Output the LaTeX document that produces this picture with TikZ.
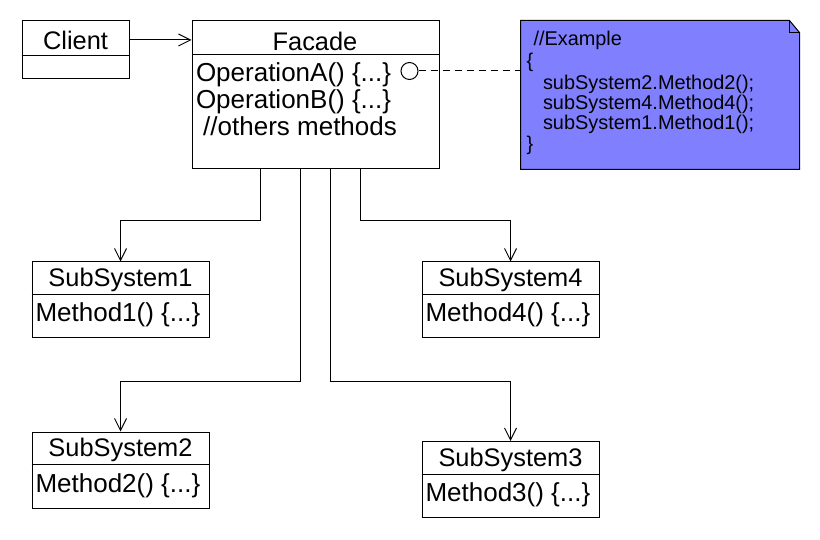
\documentclass[tikz,border=0pt]{standalone}
\usepackage{fontspec}
\setmainfont{Liberation Sans}
\usepackage{xcolor}
\usetikzlibrary{arrows.meta, positioning}

\definecolor{notefill}{HTML}{8080FF}

\begin{document}
\begin{tikzpicture}[
        x=1pt, y=-1pt,
        line width=1pt,
        classbox/.style={draw, rectangle, inner sep=0pt},
        title/.style={inner sep=0pt, font=\fontsize{25.4}{27}\selectfont},
        member/.style={inner sep=0pt, anchor=base west, font=\fontsize{26}{27}\selectfont},
        notetext/.style={inner sep=0pt, anchor=base west, font=\fontsize{19.9}{21}\selectfont},
        uses/.style={-{Straight Barb[length=12pt, width=12pt]}}
    ]
    \useasboundingbox (0,0) rectangle (820,540);

    % Client and Facade
    \node[classbox, minimum width=107pt, minimum height=58pt] (client) at (75.5,50) {};
    \draw ([yshift=-35pt]client.north west) -- ([yshift=-35pt]client.north east);
    \node[title] (clientname) at (75.5,40) {Client};

    \node[classbox, minimum width=247pt, minimum height=148pt] (facade) at (315.5,95) {};
    \draw ([yshift=-34.5pt]facade.north west) -- ([yshift=-34.5pt]facade.north east);
    \node[title] (facadename) at (315,41) {Facade};
    \node[member] (opA) at (195.5,82) {OperationA() \{...\}};
    \node[member] (opB) at (195.5,108.5) {OperationB() \{...\}};
    \node[member] (others) at (195.5,135.5) {\ //others methods};
    \node[draw, circle, minimum size=17pt, inner sep=0pt] (pin) at (409.5,71) {};

    \draw[uses] (client.east |- clientname) -- (facade.west |- clientname);

    % Note
    \node[inner sep=0pt, minimum width=278pt, minimum height=148pt] (note) at (660,95) {};
    \filldraw[fill=notefill] (note.south west) -- (note.north west)
        -- ([xshift=-10pt]note.north east) -- ([yshift=-12pt]note.north east)
        -- (note.south east) -- cycle;
    \draw ([xshift=-10pt]note.north east) -- ([xshift=-10pt, yshift=-12pt]note.north east)
        -- ([yshift=-12pt]note.north east);
    \node[notetext] (ex0) at (533,46) {//Example};
    \node[notetext] (ex1) at (526,68) {\{};
    \node[notetext] (ex2) at (542.5,90) {subSystem2.Method2();};
    \node[notetext] (ex3) at (542.5,110) {subSystem4.Method4();};
    \node[notetext] (ex4) at (542.5,130) {subSystem1.Method1();};
    \node[notetext] (ex5) at (526,151) {\}};

    \draw[dash pattern=on 7pt off 5pt] (pin.east) -- (pin.east -| note.west);

    % Subsystems
    \node[classbox, minimum width=177pt, minimum height=76pt] (sub1) at (120.5,300) {};
    \draw ([yshift=-33pt]sub1.north west) -- ([yshift=-33pt]sub1.north east);
    \node[title] (sub1name) at (120.5,280) {SubSystem1};
    \node[member] (sub1op) at (35,322) {Method1() \{...\}};

    \node[classbox, minimum width=177pt, minimum height=76pt] (sub2) at (120.5,470) {};
    \draw ([yshift=-33pt]sub2.north west) -- ([yshift=-33pt]sub2.north east);
    \node[title] (sub2name) at (120.5,450) {SubSystem2};
    \node[member] (sub2op) at (35,492) {Method2() \{...\}};

    \node[classbox, minimum width=177pt, minimum height=76pt] (sub3) at (510.5,479.5) {};
    \draw ([yshift=-33pt]sub3.north west) -- ([yshift=-33pt]sub3.north east);
    \node[title] (sub3name) at (510.5,459.5) {SubSystem3};
    \node[member] (sub3op) at (425,501.5) {Method3() \{...\}};

    \node[classbox, minimum width=177pt, minimum height=76pt] (sub4) at (510.5,300) {};
    \draw ([yshift=-33pt]sub4.north west) -- ([yshift=-33pt]sub4.north east);
    \node[title] (sub4name) at (510.5,280) {SubSystem4};
    \node[member] (sub4op) at (425,322) {Method4() \{...\}};

    % Facade to subsystems
    \draw[uses] ([xshift=-55.5pt]facade.south) -- ++(0,51.5) -| (sub1.north);
    \draw[uses] ([xshift=-15.5pt]facade.south) -- ++(0,211.5) -| (sub2.north);
    \draw[uses] ([xshift=14.5pt]facade.south) -- ++(0,211.5) -| (sub3.north);
    \draw[uses] ([xshift=44.5pt]facade.south) -- ++(0,51.5) -| (sub4.north);

\end{tikzpicture}
\end{document}
